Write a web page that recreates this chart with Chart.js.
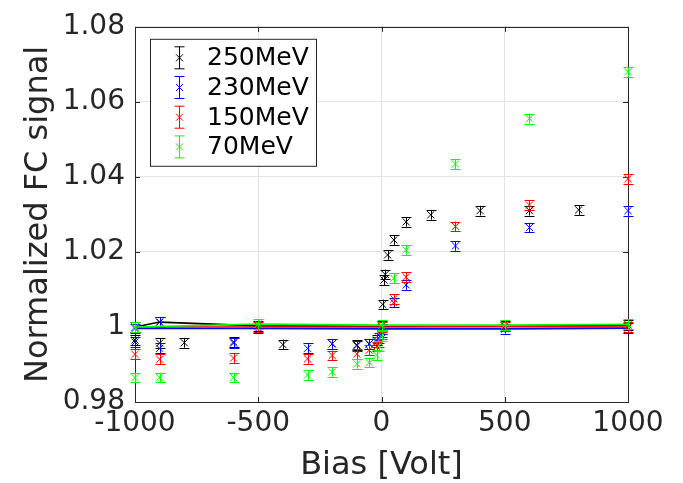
<!DOCTYPE html>
<html>
<head>
<meta charset="utf-8">
<script src="https://cdn.jsdelivr.net/npm/chart.js@4/dist/chart.umd.min.js"></script>
<style>
    html, body { margin: 0; padding: 0; background: #ffffff; }
</style>
</head>
<body>
<canvas id="chart" width="683" height="483"></canvas>
<script>
// scan points (bias in Volt, normalized FC signal)
var bias250 = [-1000, -900, -800, -600, -400, -200, -100, -50, -20, 0, 5, 10, 15, 25, 50, 100, 200, 400, 600, 800];
var sig250  = [0.9965, 0.9957, 0.9958, 0.9960, 0.9953, 0.9955, 0.9952, 0.9955, 0.9965, 0.9995, 1.0060, 1.0125, 1.0140, 1.0192, 1.0232, 1.0280, 1.0299, 1.0310, 1.0310, 1.0312];

var bias230 = [-1000, -900, -900, -600, -300, -200, -100, -50, -20, -10, 0, 50, 100, 300, 600, 1000];
var sig230  = [0.9960, 0.9943, 1.0013, 0.9957, 0.9943, 0.9955, 0.9950, 0.9955, 0.9960, 0.9970, 0.9985, 1.0065, 1.0112, 1.0216, 1.0265, 1.0310];

var bias150 = [-1000, -900, -600, -300, -200, -100, -50, -20, -10, 0, 50, 100, 300, 600, 1000];
var sig150  = [0.9927, 0.9914, 0.9917, 0.9915, 0.9924, 0.9928, 0.9938, 0.9948, 0.9960, 0.9980, 1.0075, 1.0133, 1.0268, 1.0325, 1.0395];

var bias70 = [-1000, -900, -600, -300, -200, -100, -50, -20, -10, 0, 50, 100, 300, 600, 1000];
var sig70  = [0.9865, 0.9865, 0.9865, 0.9872, 0.9880, 0.9902, 0.9905, 0.9925, 0.9950, 0.9975, 1.0130, 1.0205, 1.0434, 1.0555, 1.0680];

// reference measurements (joined by a line)
var refBias250 = [-1000, -900, -500, 0, 500, 1000];
var ref250     = [1.0000, 1.0013, 1.0003, 1.0002, 1.0003, 1.0005];
var refBias230 = [-1000, -500, 0, 500, 1000];
var ref230     = [0.9996, 0.9996, 0.9995, 0.9995, 0.9997];
var refBias150 = [-1000, -500, 0, 500, 1000];
var ref150     = [1.0000, 1.0000, 1.0000, 1.0001, 1.0000];
var refBias70  = [-1000, -500, 0, 500, 1000];
var ref70      = [1.0000, 1.0008, 1.0005, 1.0005, 1.0007];

// error bar half height for each energy
var errors = { '250MeV': 0.0013, '230MeV': 0.0013, '150MeV': 0.0013, '70MeV': 0.0013 };

var xTicks = [-1000, -500, 0, 500, 1000];
var yTicks = [0.98, 1, 1.02, 1.04, 1.06, 1.08];

var axisColor = '#262626';

function toPoints(xs, ys) {
    return xs.map(function (x, i) { return { x: x, y: ys[i] }; });
}

function makeSet(label, color, xs, ys, isRef, order) {
    return {
        label: label,
        data: toPoints(xs, ys),
        err: errors[label],
        inLegend: !isRef,
        showLine: isRef,
        borderColor: color,
        backgroundColor: color,
        borderWidth: isRef ? 1.6 : 1,
        pointBorderWidth: 1,
        pointStyle: 'crossRot',
        pointRadius: 5,
        pointHoverRadius: 5,
        clip: false,
        order: order
    };
}

// vertical error bars with caps, drawn right after each dataset
var errorBarPlugin = {
    id: 'errorBars',
    afterDatasetDraw: function (chart, args) {
        var ds = chart.data.datasets[args.index];
        if (!ds.err) return;
        var ctx = chart.ctx;
        var yScale = chart.scales.y;
        ctx.save();
        ctx.strokeStyle = ds.borderColor;
        ctx.lineWidth = 1;
        args.meta.data.forEach(function (pt, i) {
            var v = ds.data[i].y;
            var top = yScale.getPixelForValue(v + ds.err);
            var bot = yScale.getPixelForValue(v - ds.err);
            var x = Math.round(pt.x) + 0.5;
            ctx.beginPath();
            ctx.moveTo(x, top); ctx.lineTo(x, bot);
            ctx.moveTo(x - 5, Math.round(top) + 0.5); ctx.lineTo(x + 5, Math.round(top) + 0.5);
            ctx.moveTo(x - 5, Math.round(bot) + 0.5); ctx.lineTo(x + 5, Math.round(bot) + 0.5);
            ctx.stroke();
        });
        ctx.restore();
    }
};

// box around the axes with small inward ticks, plus the legend box
var framePlugin = {
    id: 'frame',
    beforeDatasetsDraw: function (chart) {
        var ctx = chart.ctx;
        var a = chart.chartArea;
        var xs = chart.scales.x, ys = chart.scales.y;
        ctx.save();
        ctx.strokeStyle = axisColor;
        ctx.lineWidth = 1;
        ctx.strokeRect(Math.round(a.left) + 0.5, Math.round(a.top) + 0.5,
                       Math.round(a.right - a.left), Math.round(a.bottom - a.top));
        ctx.beginPath();
        xTicks.forEach(function (t) {
            var px = Math.round(xs.getPixelForValue(t)) + 0.5;
            ctx.moveTo(px, a.bottom); ctx.lineTo(px, a.bottom - 5);
            ctx.moveTo(px, a.top); ctx.lineTo(px, a.top + 5);
        });
        yTicks.forEach(function (t) {
            var py = Math.round(ys.getPixelForValue(t)) + 0.5;
            ctx.moveTo(a.left, py); ctx.lineTo(a.left + 5, py);
            ctx.moveTo(a.right, py); ctx.lineTo(a.right - 5, py);
        });
        ctx.stroke();
        ctx.restore();
    },
    afterDraw: function (chart) {
        var ctx = chart.ctx;
        var a = chart.chartArea;
        var items = chart.data.datasets.filter(function (d) { return d.inLegend; });
        var lx = a.left + 15, ly = a.top + 12, lw = 166, lh = 127;
        ctx.save();
        ctx.fillStyle = '#ffffff';
        ctx.fillRect(lx, ly, lw, lh);
        ctx.strokeStyle = axisColor;
        ctx.lineWidth = 1;
        ctx.strokeRect(lx + 0.5, ly + 0.5, lw, lh);
        ctx.font = '25px "DejaVu Sans"';
        ctx.textBaseline = 'middle';
        ctx.textAlign = 'left';
        items.forEach(function (d, i) {
            var cy = ly + 19 + i * 29.7;
            var ix = lx + 29.5;
            ctx.strokeStyle = d.borderColor;
            ctx.beginPath();
            ctx.moveTo(ix, cy - 11); ctx.lineTo(ix, cy + 11);
            ctx.moveTo(ix - 5, cy - 11); ctx.lineTo(ix + 5, cy - 11);
            ctx.moveTo(ix - 5, cy + 11); ctx.lineTo(ix + 5, cy + 11);
            ctx.moveTo(ix - 3.5, cy - 3.5); ctx.lineTo(ix + 3.5, cy + 3.5);
            ctx.moveTo(ix - 3.5, cy + 3.5); ctx.lineTo(ix + 3.5, cy - 3.5);
            ctx.stroke();
            ctx.fillStyle = '#000000';
            ctx.fillText(d.label, lx + 57, cy + 1);
        });
        ctx.restore();
    }
};

var datasets = [
    makeSet('250MeV', '#000000', bias250, sig250, false, 8),
    makeSet('230MeV', '#0000ff', bias230, sig230, false, 6),
    makeSet('150MeV', '#ff0000', bias150, sig150, false, 4),
    makeSet('70MeV',  '#00ff00', bias70,  sig70,  false, 2),
    makeSet('250MeV', '#000000', refBias250, ref250, true, 7),
    makeSet('230MeV', '#0000ff', refBias230, ref230, true, 5),
    makeSet('150MeV', '#ff0000', refBias150, ref150, true, 3),
    makeSet('70MeV',  '#00ff00', refBias70,  ref70,  true, 1)
];

var tickFont = { family: 'DejaVu Sans', size: 28 };
var titleFont = { family: 'DejaVu Sans', size: 32 };

new Chart(document.getElementById('chart').getContext('2d'), {
    type: 'scatter',
    data: { datasets: datasets },
    options: {
        responsive: false,
        animation: false,
        events: [],
        layout: { padding: { top: 17, right: 55, left: 0, bottom: 0 } },
        plugins: {
            legend: { display: false },
            tooltip: { enabled: false }
        },
        scales: {
            x: {
                type: 'linear',
                min: -1000,
                max: 1000,
                afterFit: function (scale) { scale.height = 81; },
                afterBuildTicks: function (scale) {
                    scale.ticks = xTicks.map(function (v) { return { value: v }; });
                },
                ticks: {
                    color: axisColor,
                    font: tickFont,
                    padding: 5,
                    maxRotation: 0,
                    callback: function (v) { return String(v); }
                },
                grid: { color: '#e3e3e3', drawTicks: false },
                border: { display: false },
                title: {
                    display: true,
                    text: 'Bias [Volt]',
                    color: axisColor,
                    font: titleFont,
                    padding: { top: 0, bottom: -2 }
                }
            },
            y: {
                type: 'linear',
                min: 0.98,
                max: 1.08,
                afterFit: function (scale) { scale.width = 135; },
                afterBuildTicks: function (scale) {
                    scale.ticks = yTicks.map(function (v) { return { value: v }; });
                },
                ticks: {
                    color: axisColor,
                    font: tickFont,
                    padding: 10,
                    callback: function (v) { return String(+v.toFixed(2)); }
                },
                grid: { color: '#e3e3e3', drawTicks: false },
                border: { display: false },
                title: {
                    display: true,
                    text: 'Normalized FC signal',
                    color: axisColor,
                    font: titleFont,
                    padding: { top: 19, bottom: 0 }
                }
            }
        }
    },
    plugins: [errorBarPlugin, framePlugin]
});
</script>
</body>
</html>
